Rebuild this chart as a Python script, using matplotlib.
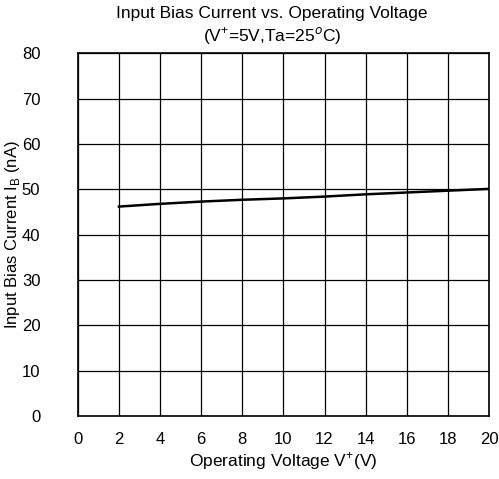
import matplotlib
matplotlib.use('Agg')
import matplotlib.pyplot as plt

plt.rcParams['font.family'] = ['Liberation Sans', 'DejaVu Sans']
plt.rcParams['mathtext.fontset'] = 'custom'
plt.rcParams['mathtext.rm'] = 'Liberation Sans'

# data
voltage = [2, 4, 6, 8, 10, 12, 14, 16, 18, 20]
bias_current = [46.2, 46.8, 47.3, 47.7, 48.0, 48.4, 48.9, 49.3, 49.7, 50.1]
x_ticks = [0, 2, 4, 6, 8, 10, 12, 14, 16, 18, 20]
y_ticks = [0, 10, 20, 30, 40, 50, 60, 70, 80]

fig = plt.figure(figsize=(4.99, 4.79), dpi=100)
ax = fig.add_axes([0.156, 0.131, 0.824, 0.758])

ax.plot(voltage, bias_current, color='black', lw=1.8)

ax.set_xlim(0, 20)
ax.set_ylim(0, 80)
ax.set_xticks(x_ticks)
ax.set_yticks(y_ticks)
ax.tick_params(length=0, labelsize=12)
ax.tick_params(axis='y', pad=27)
ax.tick_params(axis='x', pad=11)
ax.grid(True, color='black', lw=0.9)
for s in ax.spines.values():
    s.set_linewidth(1.2)

ax.set_xlabel('Operating Voltage V$^{+}$(V)', fontsize=12.5, labelpad=3)
ax.set_ylabel('Input Bias Current I$_{\\mathregular{B}}$ (nA)', fontsize=12)
ax.yaxis.set_label_coords(-0.135, 0.5)
fig.text(0.545, 0.962, 'Input Bias Current vs. Operating Voltage', ha='center', fontsize=12.5)
fig.text(0.545, 0.915, '(V$^{+}$=5V,Ta=25$^{o}$C)', ha='center', fontsize=12.5)

fig.savefig('out.png', dpi=100)
